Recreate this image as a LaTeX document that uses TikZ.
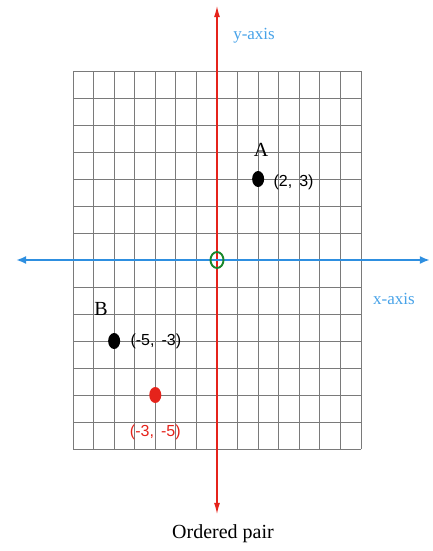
\documentclass[tikz,border=0pt]{standalone}
\usepackage{fontspec}
\setmainfont{Liberation Serif}
\setsansfont{Liberation Sans}
\usetikzlibrary{
  arrows.meta,
  positioning,
  shapes.geometric
}
\definecolor{axisRed}{HTML}{E5231B}
\definecolor{axisBlue}{HTML}{2E8FE0}
\definecolor{labelBlue}{HTML}{47A2E8}
\definecolor{originGreen}{HTML}{17872A}
\definecolor{gridGray}{HTML}{7A7A7A}
\tikzset{
  gridLine/.style={gridGray, line width=0.9pt},
  yAxisLine/.style={
    axisRed,
    line width=1.7pt,
    {Latex[length=12pt,width=6pt]}-{Latex[length=12pt,width=6pt]}
  },
  xAxisLine/.style={
    axisBlue,
    line width=2.6pt,
    {Latex[length=10pt,width=8pt]}-{Latex[length=10pt,width=8pt]}
  },
  pointDot/.style={
    ellipse,
    inner sep=0pt,
    minimum width=12pt,
    minimum height=16pt
  },
  originRing/.style={
    ellipse,
    draw=originGreen,
    line width=1.9pt,
    inner sep=0pt,
    minimum width=13pt,
    minimum height=16pt
  },
  axisLabel/.style={
    text=labelBlue,
    font=\fontsize{17}{20}\selectfont,
    inner sep=1pt
  },
  pointLetter/.style={font=\fontsize{20}{22}\selectfont, inner sep=1pt},
  pairLabel/.style={font=\sffamily\fontsize{16}{18}\selectfont, inner sep=1pt},
  captionLabel/.style={font=\fontsize{20}{24}\selectfont, inner sep=1pt}
}

\begin{document}
\begin{tikzpicture}[x=20.57pt,y=27pt]
  \useasboundingbox (-217pt,-291pt) rectangle (215pt,260pt);

  % grid
  \foreach \i in {-7,...,7} {
    \draw[gridLine] (\i,-7) -- (\i,7);
    \draw[gridLine] (-7,\i) -- (7,\i);
  }

  % axes
  \coordinate (yTop) at (0,9.44);
  \coordinate (yBot) at (0,-9.44);
  \coordinate (xLeft) at (-9.77,0);
  \coordinate (xRight) at (10.35,0);
  \draw[yAxisLine] (yBot) -- (yTop);
  \draw[xAxisLine] (xLeft) -- (xRight);
  \node[originRing] (origin) at (0,0) {};

  \node[axisLabel] (yLabel) at (1.8,8.3) {y-axis};
  \node[axisLabel] (xLabel) at (8.6,-1.44) {x-axis};

  % points
  \node[pointDot, fill=black] (dotA) at (2,3) {};
  \node[pointDot, fill=black] (dotB) at (-5,-3) {};
  \node[pointDot, fill=axisRed] (dotC) at (-3,-5) {};

  \node[pointLetter, above=13pt of dotA, xshift=3pt] (letterA) {A};
  \node[pairLabel, right=8pt of dotA, yshift=-3pt] (pairA) {(2,\,\ 3)};
  \node[pointLetter, above=16pt of dotB, xshift=-13pt] (letterB) {B};
  \node[pairLabel, right=9pt of dotB] (pairB) {(-5,\,\ -3)};
  \node[pairLabel, text=axisRed, below=21pt of dotC] (pairC) {(-3,\,\ -5)};

  \node[captionLabel, below=9pt of yBot, xshift=6pt] (caption) {Ordered pair};
\end{tikzpicture}
\end{document}
